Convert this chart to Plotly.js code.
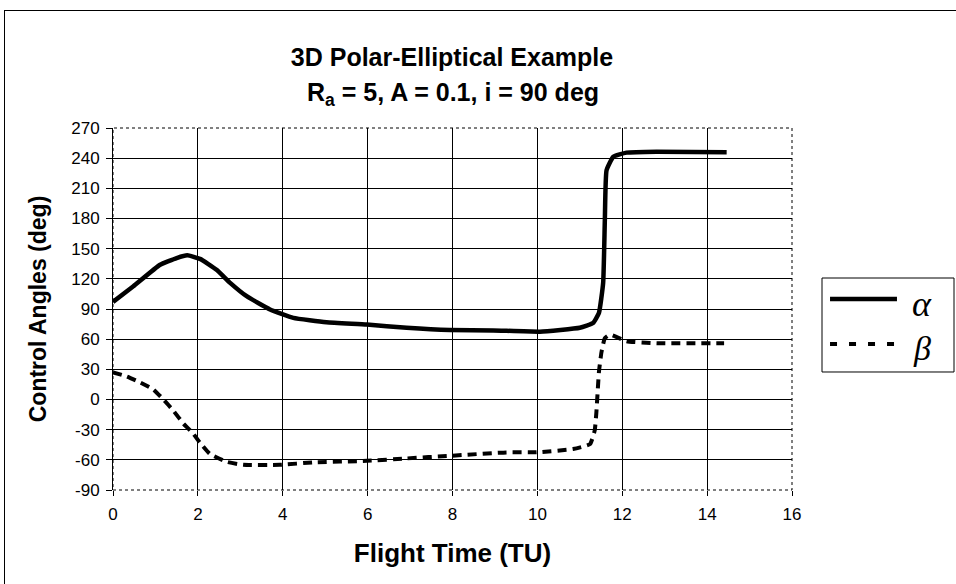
<!DOCTYPE html>
<html>
<head>
<meta charset="utf-8">
<script src="https://cdn.plot.ly/plotly-3.0.1.min.js"></script>
<style>
  html, body { margin: 0; padding: 0; background: #fff; }
  #wrap { position: relative; width: 956px; height: 584px; overflow: hidden; }
  #chart { position: absolute; left: 0; top: 0; width: 956px; height: 584px; }
  #frame { position: absolute; left: 4px; top: 10px; width: 1100px; height: 700px; border: 1px solid #000; pointer-events: none; box-sizing: border-box; }
</style>
</head>
<body>
<div id="wrap">
  <div id="chart"></div>
  <div id="frame"></div>
</div>
<script>
// Flight time (TU) and control angles (deg)
const alphaTime = [0, 0.48, 1.11, 1.5, 1.75, 2.05, 2.44, 2.76, 3.15, 3.7, 4.25, 5.03, 5.98, 6.92, 7.94, 8.96, 10.06, 11.0, 11.31, 11.45, 11.55, 11.59, 11.63, 11.79, 12.1, 12.81, 14.46];
const alphaDeg  = [97, 112.6, 134, 140.7, 143.4, 139.8, 129, 116, 102.7, 89.5, 81.2, 76.9, 74.6, 71.3, 69, 68.7, 67.5, 71.3, 76, 86, 116, 178.8, 228, 241.5, 245.5, 246.5, 246];

const betaTime = [0, 0.32, 0.64, 0.95, 1.19, 1.42, 1.66, 1.89, 2.05, 2.28, 2.68, 3.07, 3.93, 4.72, 5.98, 6.92, 7.94, 9.27, 9.98, 10.84, 11.24, 11.35, 11.39, 11.45, 11.51, 11.59, 11.71, 12.1, 12.81, 14.4];
const betaDeg  = [27, 23, 17, 10, 0, -11, -24, -34, -43, -54, -62, -65, -65, -62.5, -61, -58.6, -56, -52.6, -52.5, -49.3, -44.4, -31, -13, 27, 47, 61, 64.5, 58, 56, 56];

const xTicks = [0, 2, 4, 6, 8, 10, 12, 14, 16];
const yTicks = [-90, -60, -30, 0, 30, 60, 90, 120, 150, 180, 210, 240, 270];

const seriesNames = ['α', 'β'];
const titleLine1 = '3D Polar-Elliptical Example';
const titleLine2 = 'R<sub>a</sub> = 5, A = 0.1, i = 90 deg';
const xTitle = 'Flight Time (TU)';
const yTitle = 'Control Angles (deg)';

const font = 'Liberation Sans, Arial, sans-serif';
const serif = 'Liberation Serif, Times New Roman, serif';

const alphaLine = { color: '#000', width: 4.5 };
const betaLine = { color: '#000', width: 4, dash: '9px,6px' };

const traces = [
  { x: alphaTime, y: alphaDeg, name: seriesNames[0], mode: 'lines', type: 'scatter',
    line: Object.assign({ shape: 'spline', smoothing: 0.4 }, alphaLine) },
  { x: betaTime, y: betaDeg, name: seriesNames[1], mode: 'lines', type: 'scatter',
    line: Object.assign({ shape: 'spline', smoothing: 0.4 }, betaLine) }
];

// legend drawn in paper coordinates (right of plot area)
const leg = { x0: 1.0442, x1: 1.2386, y0: 0.326, y1: 0.5856,
              lx0: 1.056, lx1: 1.1546, ya: 0.5276, yb: 0.4033, tx: 1.191, tya: 0.514, tyb: 0.39 };

const layout = {
  width: 956, height: 584,
  margin: { l: 113, r: 164, t: 128, b: 94 },
  paper_bgcolor: '#fff', plot_bgcolor: '#fff',
  font: { family: font, color: '#000', size: 17 },
  showlegend: false,
  title: { text: '<b>' + titleLine1 + '</b>', font: { family: font, size: 25, color: '#000' },
           x: (452 / 956), xanchor: 'center', y: 1 - 57 / 584, yanchor: 'middle', yref: 'container' },
  xaxis: {
    range: [0, 16], tickvals: xTicks, ticktext: xTicks.map(String),
    showgrid: true, gridcolor: '#000', gridwidth: 1, zeroline: false,
    showline: false, ticks: 'outside', ticklen: 5, tickcolor: '#000',
    ticklabelstandoff: 4,
    tickfont: { family: font, size: 17 },
    title: { text: '<b>' + xTitle + '</b>', font: { family: font, size: 26 }, standoff: 20 }
  },
  yaxis: {
    range: [-90, 270], tickvals: yTicks, ticktext: yTicks.map(String),
    showgrid: true, gridcolor: '#000', gridwidth: 1, zeroline: false,
    showline: true, linecolor: '#000', linewidth: 1,
    ticks: 'outside', ticklen: 6, tickcolor: '#000',
    ticklabelstandoff: 3,
    tickfont: { family: font, size: 17 },
    title: { text: '<b>' + yTitle + '</b>', font: { family: font, size: 23 }, standoff: 18 }
  },
  shapes: [
    { type: 'rect', xref: 'paper', yref: 'paper', x0: 0, x1: 1, y0: 0, y1: 1,
      line: { color: '#000', width: 1, dash: 'dot' }, fillcolor: 'rgba(0,0,0,0)', layer: 'above' },
    { type: 'rect', xref: 'paper', yref: 'paper', x0: leg.x0, x1: leg.x1, y0: leg.y0, y1: leg.y1,
      line: { color: '#000', width: 1 }, fillcolor: '#fff' },
    { type: 'line', xref: 'paper', yref: 'paper', x0: leg.lx0, x1: leg.lx1, y0: leg.ya, y1: leg.ya, line: alphaLine },
    { type: 'line', xref: 'paper', yref: 'paper', x0: leg.lx0, x1: leg.lx1, y0: leg.yb, y1: leg.yb,
      line: { color: '#000', width: 4, dash: '7px,12px' } }
  ],
  annotations: [
    { text: '<b>' + titleLine2 + '</b>', xref: 'paper', yref: 'paper', x: 0.5, y: (490 - 94) / 362,
      xanchor: 'center', yanchor: 'middle', showarrow: false, font: { family: font, size: 25, color: '#000' } },
    { text: '<i>' + seriesNames[0] + '</i>', xref: 'paper', yref: 'paper', x: leg.tx, y: leg.tya,
      xanchor: 'center', yanchor: 'middle', showarrow: false, font: { family: serif, size: 36, color: '#000' } },
    { text: '<i>' + seriesNames[1] + '</i>', xref: 'paper', yref: 'paper', x: leg.tx, y: leg.tyb,
      xanchor: 'center', yanchor: 'middle', showarrow: false, font: { family: serif, size: 34, color: '#000' } }
  ]
};

Plotly.newPlot('chart', traces, layout, { displayModeBar: false, staticPlot: true });
</script>
</body>
</html>
